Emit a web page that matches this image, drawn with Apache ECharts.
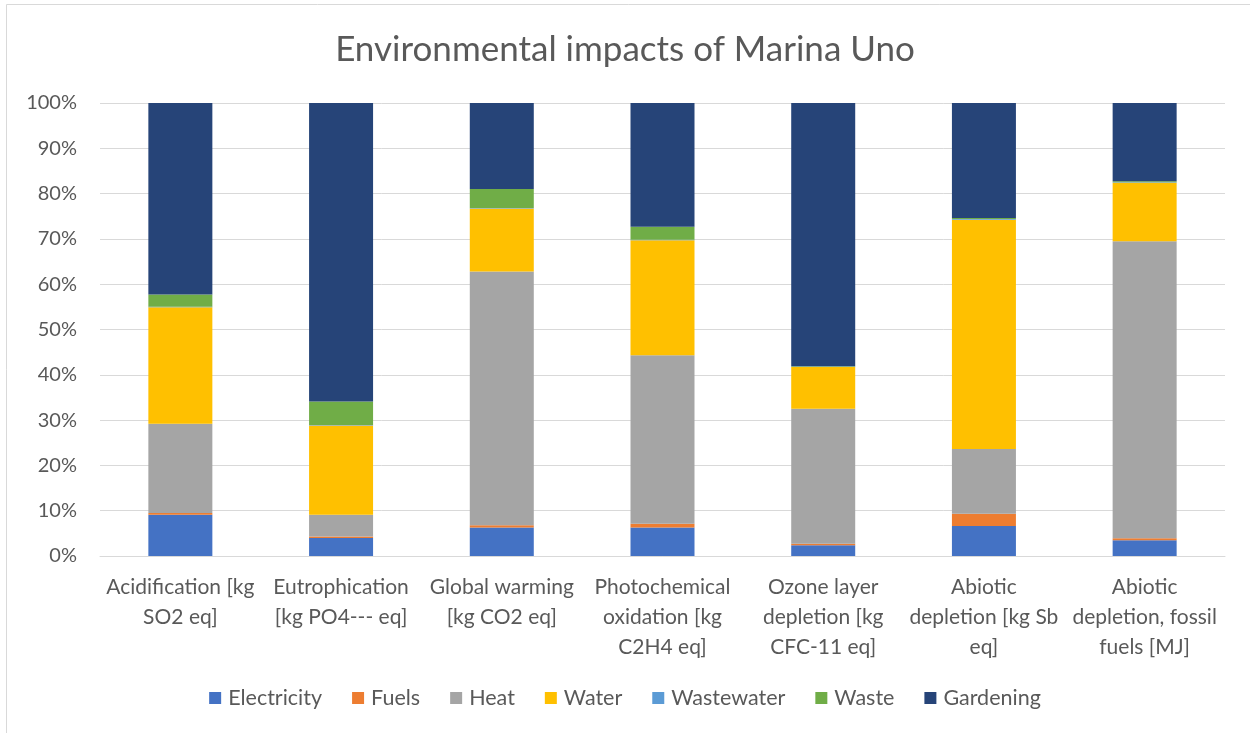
<!DOCTYPE html>
<html>
<head>
<meta charset="utf-8">
<script src="https://cdn.jsdelivr.net/npm/echarts@6/dist/echarts.min.js"></script>
<style>
  html, body { margin: 0; padding: 0; background: #ffffff; }
  #chart { width: 1250px; height: 733px; }
</style>
</head>
<body>
<div id="chart"></div>
<script>
// Impact categories (label lines as printed under each bar)
const categories = [
  'Acidification [kg\nSO2 eq]',
  'Eutrophication\n[kg PO4--- eq]',
  'Global warming\n[kg CO2 eq]',
  'Photochemical\noxidation [kg\nC2H4 eq]',
  'Ozone layer\ndepletion [kg\nCFC-11 eq]',
  'Abiotic\ndepletion [kg Sb\neq]',
  'Abiotic\ndepletion, fossil\nfuels [MJ]'
];

// Share of each impact category (%) by source
const electricity = [9.1, 4.0, 6.3, 6.3, 2.4, 6.6, 3.5];
const fuels       = [0.4, 0.3, 0.5, 0.8, 0.3, 2.7, 0.4];
const heat        = [19.7, 4.8, 56.0, 37.2, 29.8, 14.3, 65.6];
const water       = [25.7, 19.7, 13.9, 25.4, 9.2, 50.6, 12.9];
const wastewater  = [0.1, 0.1, 0.1, 0.1, 0.1, 0.2, 0.1];
const waste       = [2.7, 5.2, 4.2, 2.9, 0.1, 0.2, 0.2];
const gardening   = [42.3, 65.9, 19.0, 27.3, 58.1, 25.4, 17.3];

const yTicks = [0, 10, 20, 30, 40, 50, 60, 70, 80, 90, 100];

const seriesDefs = [
  ['Electricity', electricity, '#4472c4'],
  ['Fuels', fuels, '#ed7d31'],
  ['Heat', heat, '#a5a5a5'],
  ['Water', water, '#ffc000'],
  ['Wastewater', wastewater, '#5b9bd5'],
  ['Waste', waste, '#70ad47'],
  ['Gardening', gardening, '#264478']
];

const FONT = 'Lato';
const TEXT = '#595959';

const chart = echarts.init(document.getElementById('chart'), null, { renderer: 'canvas' });

chart.setOption({
  animation: false,
  backgroundColor: '#ffffff',
  textStyle: { fontFamily: FONT },
  title: {
    text: 'Environmental impacts of Marina Uno',
    left: 'center',
    top: 27,
    textStyle: { fontFamily: FONT, fontSize: 35, fontWeight: 'normal', color: TEXT }
  },
  graphic: [{
    type: 'rect',
    shape: { x: 6.5, y: 4.5, width: 1260, height: 760 },
    style: { fill: 'none', stroke: '#d9d9d9', lineWidth: 1 },
    silent: true
  }],
  legend: {
    bottom: 19,
    left: 'center',
    itemWidth: 12,
    itemHeight: 12,
    itemGap: 30,
    icon: 'rect',
    textStyle: { fontFamily: FONT, fontSize: 21.5, color: TEXT, padding: [0, 0, 0, 2] },
    data: seriesDefs.map(d => d[0])
  },
  grid: { left: 100, right: 25, top: 103, bottom: 177, containLabel: false },
  xAxis: {
    type: 'category',
    data: categories,
    axisLine: { lineStyle: { color: '#d9d9d9', width: 1 } },
    axisTick: { show: false },
    axisLabel: {
      interval: 0,
      fontFamily: FONT,
      fontSize: 21,
      color: TEXT,
      lineHeight: 30,
      margin: 16,
      align: 'center'
    }
  },
  yAxis: {
    type: 'value',
    min: 0,
    max: 100,
    interval: 10,
    axisLine: { show: false },
    axisTick: { show: false },
    splitLine: { lineStyle: { color: '#d9d9d9', width: 1 } },
    axisLabel: {
      fontFamily: FONT,
      fontSize: 20,
      color: TEXT,
      margin: 23,
      formatter: v => (yTicks.includes(v) ? v + '%' : '')
    }
  },
  series: seriesDefs.map(([name, values, color]) => ({
    name,
    type: 'bar',
    stack: 'share',
    barWidth: 64,
    data: values,
    itemStyle: { color },
    emphasis: { disabled: true }
  }))
});
</script>
</body>
</html>
